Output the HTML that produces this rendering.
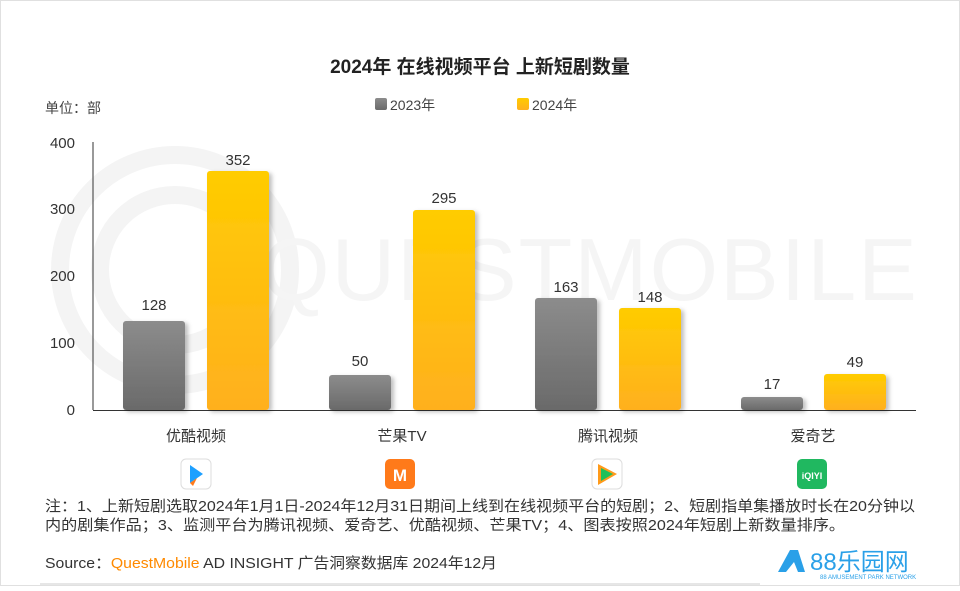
<!DOCTYPE html>
<html><head><meta charset="utf-8"><style>
body{margin:0;width:960px;height:586px;background:#fff;overflow:hidden;font-family:"Liberation Sans","Noto Sans CJK SC",sans-serif;}
</style></head><body>
<svg width="960" height="586" viewBox="0 0 960 586" xmlns="http://www.w3.org/2000/svg" font-family="Liberation Sans, Noto Sans CJK SC, sans-serif">
<defs>
<linearGradient id="g" x1="0" y1="0" x2="0" y2="1"><stop offset="0" stop-color="#8c8c8c"/><stop offset="1" stop-color="#6a6a6a"/></linearGradient>
<linearGradient id="y" x1="0" y1="0" x2="0" y2="1"><stop offset="0" stop-color="#ffcc00"/><stop offset="1" stop-color="#ffb01f"/></linearGradient>
<filter id="s" x="-20%" y="-20%" width="150%" height="150%"><feDropShadow dx="3" dy="2" stdDeviation="2" flood-color="#000" flood-opacity="0.25"/></filter>
</defs>
<rect x="0.5" y="0.5" width="959" height="585" fill="#fff" stroke="#e0e0e0"/>
<g fill="none" stroke="#f4f4f4" stroke-width="18">
<circle cx="175" cy="270" r="115"/><circle cx="175" cy="270" r="75"/>
</g>
<text x="590" y="300" font-size="88" fill="#f5f5f5" text-anchor="middle" letter-spacing="2">QUESTMOBILE</text>
<text x="480" y="73" font-size="19" font-weight="bold" fill="#222" text-anchor="middle">2024年 在线视频平台 上新短剧数量</text>
<text x="45" y="113" font-size="14" fill="#444">单位：部</text>
<rect x="375" y="98" width="12" height="12" rx="2" fill="url(#g)"/>
<text x="390" y="110" font-size="14" fill="#444">2023年</text>
<rect x="517" y="98" width="12" height="12" rx="2" fill="url(#y)"/>
<text x="532" y="110" font-size="14" fill="#444">2024年</text>
<g font-size="15" fill="#333" text-anchor="end">
<text x="75" y="148">400</text><text x="75" y="214">300</text><text x="75" y="281">200</text><text x="75" y="348">100</text><text x="75" y="415">0</text>
</g>
<line x1="93" y1="142" x2="93" y2="410" stroke="#333"/>
<line x1="93" y1="410.5" x2="916" y2="410.5" stroke="#333"/>
<g filter="url(#s)">
<rect x="123" y="321" width="62" height="89" rx="3" fill="url(#g)"/>
<rect x="207" y="171" width="62" height="239" rx="3" fill="url(#y)"/>
<rect x="329" y="375" width="62" height="35" rx="3" fill="url(#g)"/>
<rect x="413" y="210" width="62" height="200" rx="3" fill="url(#y)"/>
<rect x="535" y="298" width="62" height="112" rx="3" fill="url(#g)"/>
<rect x="619" y="308" width="62" height="102" rx="3" fill="url(#y)"/>
<rect x="741" y="397" width="62" height="13" rx="3" fill="url(#g)"/>
<rect x="824" y="374" width="62" height="36" rx="3" fill="url(#y)"/>
</g>
<g font-size="15" fill="#333" text-anchor="middle">
<text x="154" y="310">128</text><text x="238" y="165">352</text>
<text x="360" y="366">50</text><text x="444" y="203">295</text>
<text x="566" y="292">163</text><text x="650" y="302">148</text>
<text x="772" y="389">17</text><text x="855" y="367">49</text>
</g>
<g font-size="15" fill="#333" text-anchor="middle">
<text x="196" y="441">优酷视频</text><text x="402" y="441">芒果TV</text><text x="608" y="441">腾讯视频</text><text x="813" y="441">爱奇艺</text>
</g>
<rect x="181" y="459" width="30" height="30" rx="5" fill="#fff" stroke="#ddd"/>
<path d="M190 465 L203 474 L190 483 Z" fill="#1ea0ff"/><path d="M190 483 L197 478 L193 486Z" fill="#ff7a1a"/>
<rect x="385" y="459" width="30" height="30" rx="5" fill="#ff7a1a"/>
<text x="400" y="481" font-size="17" font-weight="bold" fill="#fff" text-anchor="middle">M</text>
<rect x="592" y="459" width="30" height="30" rx="5" fill="#fff" stroke="#ddd"/>
<path d="M598 464 L617 474 L598 485 Z" fill="#ff9a1a"/><path d="M601 468 L613 474 L601 481 Z" fill="#20c05a"/>
<rect x="797" y="459" width="30" height="30" rx="5" fill="#20b860"/>
<text x="812" y="479" font-size="9" font-weight="bold" fill="#fff" text-anchor="middle">iQIYI</text>
<g font-size="15" fill="#333">
<text x="45" y="511" textLength="870" lengthAdjust="spacingAndGlyphs">注：1、上新短剧选取2024年1月1日-2024年12月31日期间上线到在线视频平台的短剧；2、短剧指单集播放时长在20分钟以</text>
<text x="45" y="530" textLength="800" lengthAdjust="spacingAndGlyphs">内的剧集作品；3、监测平台为腾讯视频、爱奇艺、优酷视频、芒果TV；4、图表按照2024年短剧上新数量排序。</text>
<text x="45" y="568" textLength="452" lengthAdjust="spacingAndGlyphs">Source：<tspan fill="#ff8a00">QuestMobile</tspan> AD INSIGHT 广告洞察数据库 2024年12月</text>
</g>
<line x1="40" y1="584" x2="760" y2="584" stroke="#ccc"/>
<path d="M778 572 L790 550 L798 550 L805 572 L798 572 L794 562 L786 572 Z" fill="#2aa0e8"/>
<text x="810" y="570" font-size="24" fill="#2aa0e8">88乐园网</text>
<text x="820" y="579" font-size="6" fill="#2aa0e8">88 AMUSEMENT PARK NETWORK</text>
</svg>
</body></html>
